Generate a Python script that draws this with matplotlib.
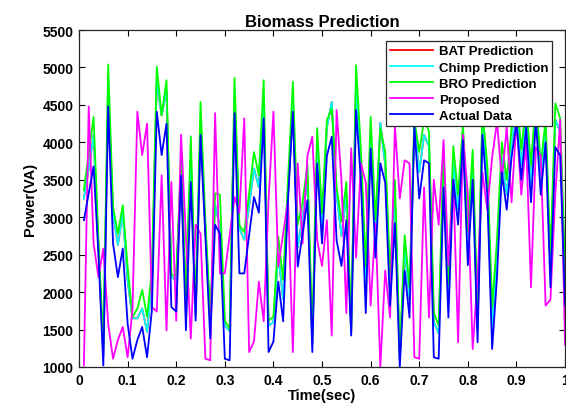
import matplotlib

matplotlib.use('Agg')
import matplotlib.pyplot as plt

plt.rcParams['font.family'] = ['Liberation Sans', 'DejaVu Sans']
plt.rcParams['font.weight'] = 'bold'

# ── data (x = 0.01 .. 1.00, step 0.01) ────────────────────────────────────
time_sec = [round(0.01 * k, 2) for k in range(1, 101)]

actual = [
    2960, 3320, 3680, 2500, 1020, 4480, 2650, 2200, 2580, 1580,
    1110, 1360, 1535, 1130, 1760, 4410, 3830, 4250, 1800, 1740,
    3560, 1490, 3470, 1620, 4100, 2740, 1380, 2900, 2780, 1110,
    1090, 4390, 2250, 2250, 2760, 3270, 3060, 4320, 1200, 1340,
    2140, 1610, 3230, 4410, 2340, 2780, 3230, 1200, 3720, 2650,
    3820, 4075, 2690, 2350, 2960, 1420, 4430, 3490, 1720, 3920,
    2460, 3720, 3460, 1820, 2920, 1000, 2290, 1660, 4210, 3250,
    3760, 3720, 1130, 1110, 3400, 1660, 3500, 2900, 4030, 2360,
    3500, 1330, 4100, 3300, 1240, 2200, 3600, 3100, 3800, 4270,
    3500, 4200, 3200, 4300, 3300, 4000, 2065, 3935, 3825, 1820,
]

proposed = [
    1020, 4480, 2650, 2200, 2580, 1580, 1110, 1360, 1535, 1130,
    1760, 4410, 3830, 4250, 1800, 1740, 3560, 1490, 3470, 1620,
    4100, 2740, 1380, 2900, 2780, 1110, 1090, 4390, 2250, 2250,
    2760, 3270, 3060, 4320, 1200, 1340, 2140, 1610, 3230, 4410,
    2340, 2780, 3230, 1200, 3720, 2650, 3820, 4075, 2690, 2350,
    2960, 1420, 4430, 3490, 1720, 3920, 2460, 3720, 3460, 1820,
    2920, 1000, 2290, 1660, 4210, 3250, 3760, 3720, 1130, 1110,
    3400, 1660, 3500, 2900, 4030, 2360, 3500, 1330, 4100, 3300,
    1240, 2200, 3600, 3100, 3800, 4270, 3500, 4200, 3200, 4300,
    3300, 4000, 2065, 3935, 3825, 1820, 1900, 3300, 4300, 1300,
]

bro = [
    3360, 3850, 4340, 2700, 1300, 5040, 3140, 2780, 3160, 2340,
    1670, 1780, 2030, 1670, 2300, 5010, 4360, 4830, 2220, 2230,
    3800, 1950, 4080, 1800, 4540, 2950, 1700, 3320, 3300, 1620,
    1510, 4860, 2890, 2800, 3320, 3870, 3560, 4830, 1620, 1670,
    2740, 2160, 3500, 4810, 2900, 3200, 3700, 1450, 4190, 3050,
    4300, 4450, 3400, 2940, 3470, 1550, 5030, 3900, 2350, 4340,
    2960, 4190, 3870, 2250, 3500, 1180, 2760, 2070, 4300, 3870,
    4300, 4150, 1730, 1550, 3900, 2100, 3950, 3300, 4250, 2800,
    3900, 1700, 4450, 3700, 1800, 2700, 4000, 3500, 4200, 4650,
    3900, 4500, 3700, 4600, 3700, 4300, 2500, 4520, 4320, 2300,
]

chimp = [
    3250, 3650, 4100, 2600, 1150, 4700, 3050, 2630, 3050, 2160,
    1650, 1650, 1780, 1470, 2100, 4810, 4360, 4700, 2200, 2160,
    3650, 1800, 3760, 1700, 4210, 2850, 1600, 3160, 2870, 1550,
    1480, 4600, 2850, 2700, 3150, 3650, 3400, 4500, 1550, 1600,
    2500, 1900, 3300, 4450, 2600, 3000, 3500, 1300, 3900, 2900,
    4200, 4540, 3300, 2750, 3300, 1450, 4800, 3600, 2100, 4100,
    2750, 4260, 3700, 2100, 3250, 1100, 2600, 1900, 4250, 3600,
    4100, 3950, 1600, 1450, 3650, 1900, 3700, 3100, 4150, 2600,
    3700, 1500, 4300, 3500, 1500, 2450, 3800, 3300, 4000, 4450,
    3700, 4350, 3450, 4450, 3500, 4150, 2300, 4300, 4150, 2050,
]

# BAT sits exactly under the Chimp curve in the reference (never visible)
bat = list(chimp)

series = [
    ('BAT Prediction', bat, '#ff0000'),
    ('Chimp Prediction', chimp, '#00ffff'),
    ('BRO Prediction', bro, '#00ff00'),
    ('Proposed', proposed, '#ff00ff'),
    ('Actual Data', actual, '#0000ff'),
]

# ── figure ────────────────────────────────────────────────────────────
fig = plt.figure(figsize=(5.66, 4.06), dpi=100)
ax = fig.add_axes([0.1396, 0.0936, 0.8587, 0.83])

for name, vals, col in series:
    ax.plot(time_sec, vals, color=col, linewidth=1.3, label=name)

ax.set_xlim(0, 1)
ax.set_ylim(1000, 5500)
ax.set_xticks([0, 0.1, 0.2, 0.3, 0.4, 0.5, 0.6, 0.7, 0.8, 0.9, 1])
ax.set_xticklabels(['0', '0.1', '0.2', '0.3', '0.4', '0.5', '0.6', '0.7', '0.8', '0.9', '1'])
ax.set_yticks(range(1000, 5501, 500))
ax.tick_params(direction='in', top=True, right=True, length=4, width=0.8,
               labelsize=10, pad=4)
for sp in ax.spines.values():
    sp.set_linewidth(0.9)
    sp.set_color('#262626')

ax.set_title('Biomass Prediction', fontsize=12, fontweight='bold', pad=3)
ax.set_xlabel('Time(sec)', fontsize=10.5, fontweight='bold', labelpad=1)
ax.set_ylabel('Power(VA)', fontsize=10.5, fontweight='bold', labelpad=4)

leg = ax.legend(loc='upper right', bbox_to_anchor=(0.9735, 0.967), fontsize=9.5,
                frameon=True, fancybox=False, framealpha=1, edgecolor='#262626',
                handlelength=3.3, handletextpad=0.4, labelspacing=0.3,
                borderpad=0.3, borderaxespad=0)
leg.get_frame().set_linewidth(0.9)
for t in leg.get_texts():
    t.set_fontweight('bold')

fig.savefig('out.png', dpi=100)
